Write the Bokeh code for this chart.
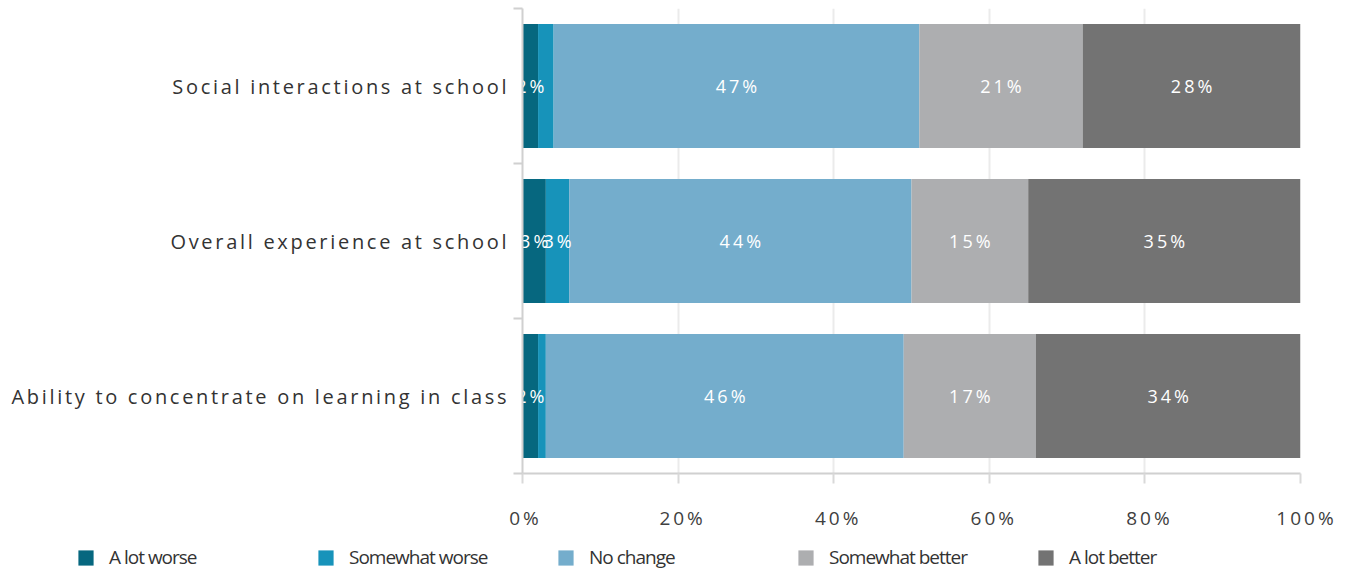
from bokeh.plotting import figure
from bokeh.layouts import row
from bokeh.models import (ColumnDataSource, Range1d, FixedTicker, PrintfTickFormatter,
                          Legend, LegendItem, InlineStyleSheet)
from bokeh.core.properties import value
from bokeh.embed import file_html
from bokeh.resources import INLINE

categories = ["Ability to concentrate on learning in class",
              "Overall experience at school",
              "Social interactions at school"]
series = ["A lot worse", "Somewhat worse", "No change", "Somewhat better", "A lot better"]
a_lot_worse = [2, 3, 2]
somewhat_worse = [1, 3, 2]
no_change = [46, 44, 47]
somewhat_better = [17, 15, 21]
a_lot_better = [34, 35, 28]
colors = ["#06677f", "#1793ba", "#74adcc", "#adaeb0", "#737373"]
x_ticks = [0, 20, 40, 60, 80, 100]
hidden_labels = [("Ability to concentrate on learning in class", "Somewhat worse"),
                 ("Social interactions at school", "Somewhat worse")]

values = [a_lot_worse, somewhat_worse, no_change, somewhat_better, a_lot_better]
ypos = list(range(len(categories)))
data = {"y": ypos}
for s, v in zip(series, values):
    data[s] = v
source = ColumnDataSource(data)

FONT = "Open Sans"
LS = 3      # letter spacing (px) of the axis texts
LS_CAT = 2.7  # letter spacing (px) of the category names


def spaced(ls):
    return [InlineStyleSheet(css=":host { letter-spacing: %spx; }" % ls)]


y_range = Range1d(-0.5, len(categories) - 0.5)

# main plot
p = figure(width=832, height=535, output_backend="svg", toolbar_location=None,
           x_range=Range1d(0, 100), y_range=y_range,
           min_border_left=14, min_border_right=40, min_border_top=8, min_border_bottom=62,
           stylesheets=spaced(LS))
p.outline_line_color = None
p.background_fill_color = "white"

renderers = p.hbar_stack(series, y="y", height=0.8, color=colors, line_color=None, source=source)

# labels inside the bars
lx, ly, lt, lo = [], [], [], []
for i, cat in enumerate(categories):
    left = 0
    for s, v in zip(series, values):
        if (cat, s) not in hidden_labels:
            t = f"{v[i]}%"
            lx.append(left + v[i] / 2)
            ly.append(ypos[i])
            lt.append(t)
            lo.append(-(len(t) - 1) * LS / 2)
        left += v[i]
p.text(x=lx, y=ly, text=lt, x_offset=lo, text_color="white", text_align="center",
       text_baseline="middle", text_font=value(FONT), text_font_size="18px")

# x axis
p.xaxis.ticker = FixedTicker(ticks=x_ticks)
p.xaxis.formatter = PrintfTickFormatter(format="%d%%")
p.xaxis.axis_line_color = "#d0d0d0"
p.xaxis.axis_line_width = 2
p.xaxis.major_tick_line_color = "#d9d9d9"
p.xaxis.major_tick_line_width = 2
p.xaxis.major_tick_in = 0
p.xaxis.major_tick_out = 10
p.xaxis.minor_tick_line_color = None
p.xaxis.major_label_standoff = 21
p.xaxis.major_label_text_font = FONT
p.xaxis.major_label_text_font_size = "19px"
p.xaxis.major_label_text_color = "#404040"

p.xgrid.grid_line_color = "#ebebeb"
p.xgrid.grid_line_width = 2
p.ygrid.grid_line_color = None

# y axis: line and ticks between categories only (names are in the label panel)
p.yaxis.ticker = FixedTicker(ticks=[], minor_ticks=[y - 0.5 for y in ypos] + [ypos[-1] + 0.5])
p.yaxis.axis_line_color = "#d0d0d0"
p.yaxis.axis_line_width = 2
p.yaxis.major_tick_line_color = None
p.yaxis.minor_tick_line_color = "#d0d0d0"
p.yaxis.minor_tick_line_width = 2
p.yaxis.minor_tick_in = 0
p.yaxis.minor_tick_out = 9
p.yaxis.major_label_standoff = 0

# category label panel
lab = figure(width=508, height=535, output_backend="svg", toolbar_location=None,
             x_range=Range1d(0, 1), y_range=y_range, x_axis_type=None, y_axis_type=None,
             min_border_left=0, min_border_right=0, min_border_top=8, min_border_bottom=62,
             stylesheets=spaced(LS_CAT))
lab.outline_line_color = None
lab.xgrid.grid_line_color = None
lab.ygrid.grid_line_color = None
lab.text(x=[1] * len(categories), y=ypos, text=categories,
         x_offset=[-2 - (len(c) - 1) * LS_CAT for c in categories],
         text_align="right", text_baseline="middle", text_color="#333333",
         text_font=value(FONT), text_font_size="20px")

# legend strip
lg = figure(width=1340, height=35, output_backend="svg", toolbar_location=None,
            x_range=Range1d(0, 1), y_range=Range1d(0, 1), x_axis_type=None, y_axis_type=None,
            min_border_left=0, min_border_right=0, min_border_top=0, min_border_bottom=0,
            stylesheets=spaced(-1))
lg.outline_line_color = None
lg.xgrid.grid_line_color = None
lg.ygrid.grid_line_color = None
dummy = [lg.vbar(x=[0.5], top=[1], width=0.1, fill_color=c, line_color=None, visible=False)
         for c in colors]
legend = Legend(items=[LegendItem(label=s, renderers=[r]) for s, r in zip(series, dummy)],
                orientation="horizontal", location=(76, 0),
                glyph_width=19, glyph_height=19, label_standoff=14, label_width=207,
                label_height=19, spacing=0, padding=0, margin=0,
                border_line_color=None, background_fill_alpha=0,
                label_text_font=FONT, label_text_font_size="19px", label_text_color="#333333")
lg.add_layout(legend, "center")

open("out.html", "w").write(file_html([row(lab, p, spacing=0), lg], INLINE))
